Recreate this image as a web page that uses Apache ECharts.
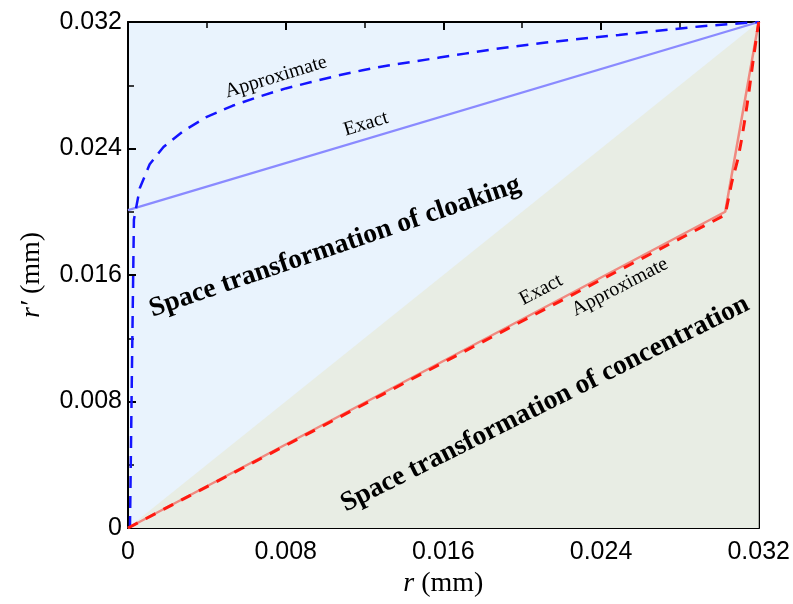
<!DOCTYPE html>
<html>
<head>
<meta charset="utf-8">
<script src="https://cdn.jsdelivr.net/npm/echarts@6/dist/echarts.min.js"></script>
<style>html,body{margin:0;padding:0;background:#fff;}#chart{width:793px;height:604px;}</style>
</head>
<body>
<div id="chart"></div>
<script>
// ---- data (mm) ----
const axisMin = 0;
const axisMax = 0.032;
const axisStep = 0.008;
const diagonal = [[0, 0], [0.032, 0.032]];
const cloakExact = [[0, 0.0201], [0.032, 0.032]];
const cloakApprox = [
  [0.0001, 0], [0.0002, 0.010], [0.0003, 0.0195], [0.0006, 0.0215], [0.0011, 0.0230],
  [0.0018, 0.0241], [0.0028, 0.0251], [0.0040, 0.0260], [0.0053, 0.0267], [0.0067, 0.0273],
  [0.0080, 0.0278], [0.0093, 0.0282], [0.0106, 0.0286], [0.0119, 0.02895], [0.0132, 0.02925],
  [0.0145, 0.0295], [0.0158, 0.02975], [0.0171, 0.0300], [0.0184, 0.03025], [0.0197, 0.03047],
  [0.0210, 0.03067], [0.0223, 0.03085], [0.0236, 0.03102], [0.0249, 0.03118], [0.0262, 0.03135],
  [0.0290, 0.03172], [0.032, 0.032]
];
const concExact = [[0, 0], [0.0303, 0.0200], [0.032, 0.032]];
const concApprox = [
  [0, 0], [0.008, 0.00522], [0.016, 0.01047], [0.024, 0.0157], [0.0303, 0.0198],
  [0.03063, 0.02185], [0.03095, 0.02337], [0.03114, 0.02463], [0.03133, 0.02609],
  [0.03150, 0.02754], [0.03173, 0.02969], [0.0319, 0.03115], [0.032, 0.032]
];
const tickLabels = ['0', '0.008', '0.016', '0.024', '0.032'];

const labelFmt = v => {
  const i = Math.round((v - axisMin) / axisStep);
  return tickLabels[i] !== undefined ? tickLabels[i] : '';
};

const chart = echarts.init(document.getElementById('chart'), null, {renderer: 'canvas'});

const tickFont = {fontFamily: '"Liberation Sans", Arial, sans-serif', fontSize: 25, color: '#000'};
const axisLineStyle = {color: '#000', width: 2};

function mkAxis(extra) {
  return Object.assign({
    type: 'value', min: axisMin, max: axisMax, interval: axisStep,
    axisLine: {show: true, onZero: false, lineStyle: axisLineStyle},
    axisTick: {show: true, inside: true, length: 8, lineStyle: {color: '#000', width: 2}},
    minorTick: {show: true, splitNumber: 2, length: 6, lineStyle: {color: '#000', width: 1.5}},
    splitLine: {show: false},
    minorSplitLine: {show: false}
  }, extra);
}

const serif = '"Liberation Serif", "Times New Roman", serif';

const option = {
  animation: false,
  backgroundColor: '#fff',
  grid: {left: 128, right: 33, top: 22, bottom: 76, show: true, backgroundColor: '#e9f3fd', borderWidth: 0},
  xAxis: [
    mkAxis({
      position: 'bottom',
      axisLabel: Object.assign({margin: 12, formatter: labelFmt}, tickFont),
      name: '{i|r} (mm)', nameLocation: 'middle', nameGap: 42,
      nameTextStyle: {fontFamily: serif, fontSize: 28, color: '#000',
        rich: {i: {fontFamily: serif, fontStyle: 'italic', fontSize: 28, color: '#000'}}}
    }),
    mkAxis({position: 'top', axisLabel: {show: false}})
  ],
  yAxis: [
    mkAxis({
      position: 'left',
      axisLabel: Object.assign({margin: 6, formatter: labelFmt}, tickFont),
      name: '{i|r\u2032} (mm)', nameLocation: 'middle', nameGap: 82, nameRotate: 90,
      nameTextStyle: {fontFamily: serif, fontSize: 28, color: '#000',
        rich: {i: {fontFamily: serif, fontStyle: 'italic', fontSize: 28, color: '#000'}}}
    }),
    mkAxis({position: 'right', axisLabel: {show: false}})
  ],
  series: [
    {type: 'line', data: diagonal, showSymbol: false, silent: true, z: 1,
      lineStyle: {width: 0, opacity: 0}, areaStyle: {color: '#e8ede4', opacity: 1}},
    {type: 'line', data: cloakExact, showSymbol: false, silent: true, z: 3,
      lineStyle: {color: '#8a8aff', width: 2.2}},
    {type: 'line', data: cloakApprox, showSymbol: false, silent: true, z: 4, smooth: false,
      lineStyle: {color: '#1414ff', width: 2.5, type: [12, 8]}},
    {type: 'line', data: concExact, showSymbol: false, silent: true, z: 3,
      lineStyle: {color: '#f08a80', width: 2.5}},
    {type: 'line', data: concApprox, showSymbol: false, silent: true, z: 4,
      lineStyle: {color: '#ff1a10', width: 3, type: [11, 9]}}
  ],
  graphic: [
    {type: 'text', x: 276, y: 77, rotation: 17 * Math.PI / 180, z: 10,
      style: {text: 'Approximate', font: '20px ' + serif, fill: '#000', align: 'center', verticalAlign: 'middle'}},
    {type: 'text', x: 366, y: 124, rotation: 17 * Math.PI / 180, z: 10,
      style: {text: 'Exact', font: '20px ' + serif, fill: '#000', align: 'center', verticalAlign: 'middle'}},
    {type: 'text', x: 335, y: 247, rotation: 18.8 * Math.PI / 180, z: 10,
      style: {text: 'Space transformation of cloaking', font: 'bold 27.5px ' + serif, fill: '#000', align: 'center', verticalAlign: 'middle'}},
    {type: 'text', x: 541, y: 290, rotation: 28 * Math.PI / 180, z: 10,
      style: {text: 'Exact', font: '20px ' + serif, fill: '#000', align: 'center', verticalAlign: 'middle'}},
    {type: 'text', x: 620, y: 287, rotation: 27.5 * Math.PI / 180, z: 10,
      style: {text: 'Approximate', font: '20px ' + serif, fill: '#000', align: 'center', verticalAlign: 'middle'}},
    {type: 'text', x: 545, y: 404, rotation: 26.6 * Math.PI / 180, z: 10,
      style: {text: 'Space transformation of concentration', font: 'bold 27.5px ' + serif, fill: '#000', align: 'center', verticalAlign: 'middle'}}
  ]
};
chart.setOption(option);
</script>
</body>
</html>
